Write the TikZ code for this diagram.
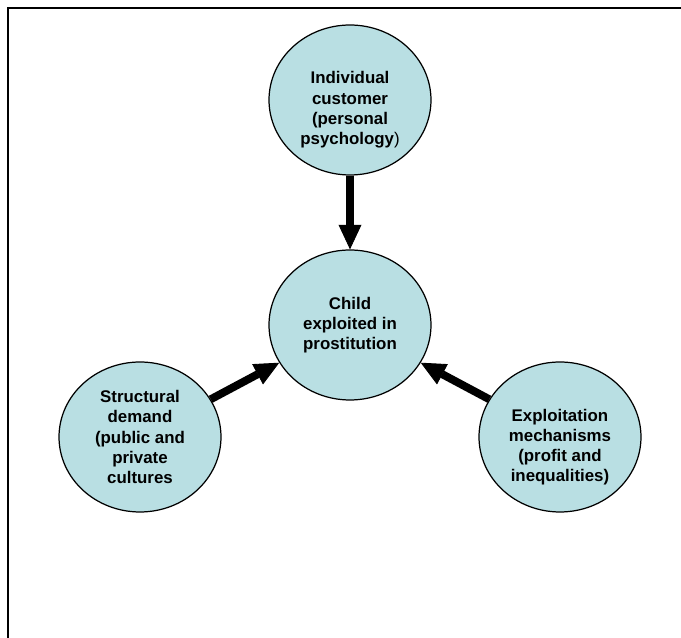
\documentclass[tikz,border=0pt]{standalone}
\usepackage{fontspec}
\setmainfont{Liberation Sans}
\usepackage{tikz}
\usetikzlibrary{arrows.meta}
\usetikzlibrary{shapes.geometric}
\definecolor{circfill}{RGB}{185,223,227}
\tikzset{
  factor/.style={ellipse, draw, line width=0.7pt, fill=circfill,
    minimum width=3.24cm, minimum height=3.0cm, inner sep=0pt, align=center,
    font=\bfseries\fontsize{9.6}{11.4}\selectfont},
  push/.style={line width=4.5pt, -{Triangle[width=13pt,length=14pt,line width=0.5pt]}}
}
\begin{document}
\begin{tikzpicture}[x=0.02cm,y=-0.02cm]
        \newcommand{\figcentx}{350}
        \newcommand{\figcenty}{325}
        \newcommand{\figtopy}{100}
        \newcommand{\figsidey}{437}
        \newcommand{\figsidedx}{210}
        \newcommand{\figdrop}{\rule{0pt}{18pt}}
        \useasboundingbox (0,0) rectangle (681,638);
        \draw[line width=1.2pt] (8,638) -- (8,8) -- (681,8);
        \node[factor] (child) at (\figcentx,\figcenty) {Child\\exploited in\\prostitution};
        \node[factor] (customer) at (\figcentx,\figtopy) {\figdrop Individual\\customer\\(personal\\psychology{\mdseries)}};
        \node[factor] (demand) at (\figcentx-\figsidedx,\figsidey) {Structural\\demand\\(public and\\private\\cultures};
        \node[factor] (mechanisms) at (\figcentx+\figsidedx,\figsidey) {\figdrop Exploitation\\mechanisms\\(profit and\\inequalities)};
        \draw[push] (customer) -- (child);
        \draw[push] (demand) -- (child);
        \draw[push] (mechanisms) -- (child);
    \end{tikzpicture}
\end{document}
